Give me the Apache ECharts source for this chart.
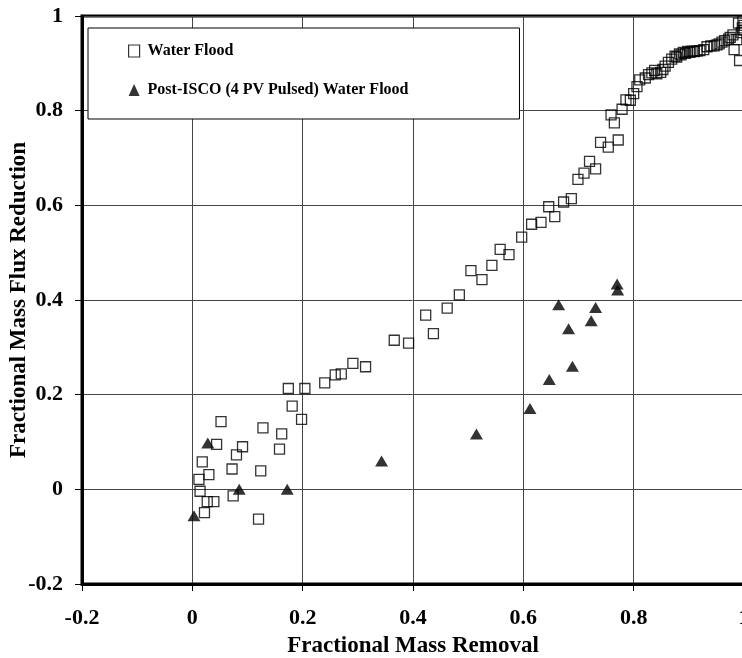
<!DOCTYPE html>
<html>
<head>
<meta charset="utf-8">
<script src="https://cdn.jsdelivr.net/npm/echarts@6/dist/echarts.min.js"></script>
<style>
html,body{margin:0;padding:0;background:#fff;}
#chart{width:742px;height:658px;}
</style>
</head>
<body>
<div id="chart"></div>
<script>
const waterFloodX = [0.052,0.128,0.162,0.181,0.174,0.198,0.204,0.044,0.091,0.080,0.158,0.018,0.072,0.124,0.030,0.012,0.014,0.074,0.027,0.039,0.022,0.120,
0.240,0.259,0.270,0.291,0.314,0.366,0.392,0.423,0.437,0.462,0.484,0.505,0.525,0.543,0.558,0.574,0.597,0.615,0.632,0.646,0.657,0.673,0.687,0.699,0.710,0.731,0.720,0.740,0.754,0.772,0.759,0.765,0.779,0.786,0.794,0.800,0.806,0.811,0.821,0.827,0.833,0.838,0.842,0.849,0.853,0.857,0.863,0.869,0.875,0.878,0.883,0.886,0.890,0.894,0.898,0.902,0.906,0.910,0.915,0.920,0.927,0.933,0.940,0.946,0.951,0.955,0.960,0.965,0.972,0.975,0.980,0.982,0.987,0.990,0.992,0.995,0.997,0.998,1.0,1.0];
const waterFloodY = [0.143,0.130,0.117,0.176,0.213,0.148,0.213,0.095,0.090,0.073,0.085,0.058,0.043,0.039,0.031,0.021,-0.004,-0.014,-0.026,-0.026,-0.049,-0.063,
0.225,0.242,0.244,0.266,0.259,0.315,0.309,0.368,0.329,0.383,0.411,0.462,0.443,0.473,0.507,0.496,0.533,0.560,0.564,0.597,0.576,0.607,0.614,0.655,0.668,0.677,0.693,0.733,0.723,0.738,0.791,0.774,0.803,0.823,0.822,0.836,0.851,0.865,0.869,0.876,0.880,0.885,0.878,0.881,0.887,0.894,0.902,0.909,0.915,0.913,0.920,0.918,0.923,0.921,0.925,0.923,0.926,0.925,0.926,0.927,0.929,0.935,0.937,0.937,0.939,0.941,0.945,0.948,0.951,0.955,0.960,0.929,0.950,0.985,0.906,0.965,0.975,0.99,0.97,0.98];
const postIscoX = [0.003,0.028,0.085,0.172,0.343,0.515,0.612,0.647,0.689,0.682,0.664,0.723,0.731,0.770,0.771];
const postIscoY = [-0.056,0.098,0,0,0.060,0.117,0.171,0.232,0.260,0.339,0.390,0.356,0.384,0.434,0.421];
const seriesNames = ['Water Flood', 'Post-ISCO (4 PV Pulsed) Water Flood'];
const xTitle = 'Fractional Mass Removal';
const yTitle = 'Fractional Mass Flux Reduction';

const zip = (xs, ys) => xs.map((x, i) => [x, ys[i]]);
const font = '"Liberation Serif","Times New Roman",serif';

const chart = echarts.init(document.getElementById('chart'), null, {renderer: 'canvas'});
chart.setOption({
  animation: false,
  backgroundColor: '#fff',
  grid: {
    left: 82, top: 16, right: -2, bottom: 74,
    containLabel: false,
    outerBoundsMode: 'none',
    show: true, borderColor: '#000', borderWidth: 3, backgroundColor: 'transparent'
  },
  legend: {
    left: 88, top: 28,
    orient: 'vertical',
    backgroundColor: '#fff',
    borderColor: '#000',
    borderWidth: 1,
    padding: [15, 111, 21, 40],
    itemGap: 23,
    itemWidth: 11,
    itemHeight: 12,
    textStyle: {fontFamily: font, fontWeight: 'bold', fontSize: 16, color: '#000', lineHeight: 16, padding: [0,0,0,3]},
    data: [
      {name: seriesNames[0], itemStyle: {color: 'rgba(255,255,255,0)', borderColor: '#000', borderWidth: 1.2}},
      {name: seriesNames[1], icon: 'triangle', itemStyle: {color: '#000'}}
    ]
  },
  xAxis: {
    type: 'value', min: -0.2, max: 1, interval: 0.2,
    name: xTitle, nameLocation: 'middle', nameGap: 51, nameMoveOverlap: false,
    nameTextStyle: {fontFamily: font, fontWeight: 'bold', fontSize: 23, color: '#000'},
    axisLine: {show: true, onZero: false, lineStyle: {color: '#000', width: 3}},
    axisTick: {show: true, inside: false, length: 7, lineStyle: {color: '#000', width: 1}},
    axisLabel: {fontFamily: font, fontWeight: 'bold', fontSize: 22, color: '#000', margin: 23},
    splitLine: {show: true, lineStyle: {color: '#444', width: 1}}
  },
  yAxis: {
    type: 'value', min: -0.2, max: 1, interval: 0.2,
    name: yTitle, nameLocation: 'middle', nameGap: 51, nameRotate: 90, nameMoveOverlap: false,
    nameTextStyle: {fontFamily: font, fontWeight: 'bold', fontSize: 23, color: '#000'},
    axisLine: {show: true, onZero: false, lineStyle: {color: '#000', width: 3}},
    axisTick: {show: true, inside: false, length: 7, lineStyle: {color: '#000', width: 1}},
    axisLabel: {fontFamily: font, fontWeight: 'bold', fontSize: 22, color: '#000', margin: 19},
    splitLine: {show: true, lineStyle: {color: '#444', width: 1}}
  },
  series: [
    {
      name: seriesNames[0], type: 'scatter', symbol: 'rect', symbolSize: 10,
      itemStyle: {color: 'rgba(255,255,255,0)', borderColor: '#000', borderWidth: 1.3},
      data: zip(waterFloodX, waterFloodY), z: 3
    },
    {
      name: seriesNames[1], type: 'scatter', symbol: 'triangle', symbolSize: [13, 11],
      itemStyle: {color: '#000'},
      data: zip(postIscoX, postIscoY), z: 4
    }
  ]
});
</script>
</body>
</html>
